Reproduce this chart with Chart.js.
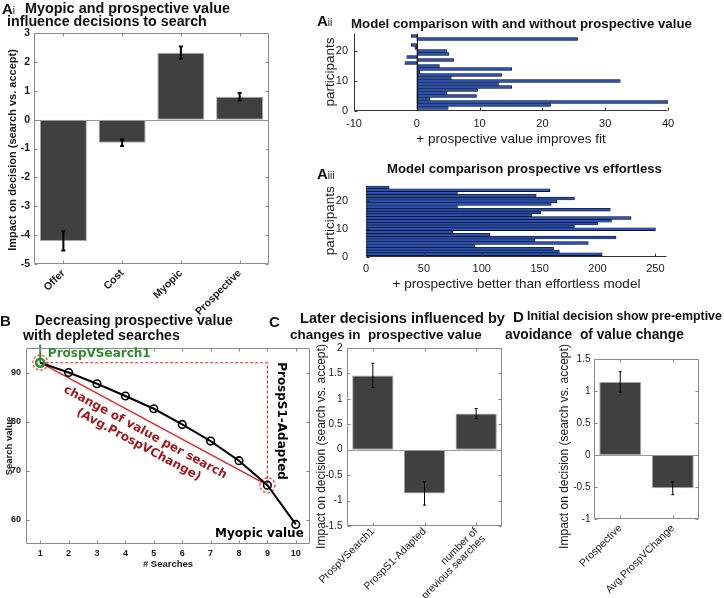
<!DOCTYPE html>
<html>
<head>
<meta charset="utf-8">
<title>Prospective value and search decisions</title>
<script src="https://cdn.jsdelivr.net/npm/chart.js@4.4.1/dist/chart.umd.min.js"></script>
<style>
  body { margin: 0; background: #fff; }
  #fig { position: relative; width: 724px; height: 598px; overflow: hidden; font-family: "Liberation Sans", Arial, Helvetica, sans-serif; color: #111; }
  #fig canvas { position: absolute; }
  .txt { position: absolute; white-space: nowrap; font-weight: bold; line-height: 1; }
  .tag { position: absolute; white-space: nowrap; font-weight: bold; font-size: 15px; line-height: 1; }
  .tag small { font-size: 10px; font-weight: normal; }
</style>
</head>
<body>
<div id="fig">
  <canvas id="chartAi"></canvas>
  <canvas id="chartAii"></canvas>
  <canvas id="chartAiii"></canvas>
  <canvas id="chartB"></canvas>
  <canvas id="chartC"></canvas>
  <canvas id="chartD"></canvas>

  <div class="tag" style="left:2px;top:1px">A<small>i</small></div>
  <div class="txt" data-w="205" style="left:25px;top:1px;font-size:14px">Myopic and prospective value</div>
  <div class="txt" data-w="200" style="left:7px;top:13.5px;font-size:14px">influence decisions to search</div>

  <div class="tag" style="left:317px;top:12.5px">A<small>ii</small></div>
  <div class="txt" data-w="341" style="left:351px;top:16.5px;font-size:13px">Model comparison with and without prospective value</div>

  <div class="tag" style="left:317px;top:165.5px">A<small>iii</small></div>
  <div class="txt" data-w="275" style="left:387px;top:162px;font-size:13px">Model comparison prospective vs effortless</div>

  <div class="tag" style="left:0px;top:313px">B</div>
  <div class="txt" data-w="198" style="left:35px;top:313px;font-size:14px">Decreasing prospective value</div>
  <div class="txt" data-w="157" style="left:23px;top:328px;font-size:14px">with depleted searches</div>

  <div class="tag" style="left:269px;top:313.5px">C</div>
  <div class="txt" data-w="205" style="left:300px;top:311px;font-size:14px">Later decisions influenced by</div>
  <div class="txt" data-w="192" style="left:290px;top:327.5px;font-size:14px">changes in&nbsp; prospective value</div>

  <div class="tag" style="left:513px;top:308.5px">D</div>
  <div class="txt" data-w="195" style="left:527px;top:310px;font-size:14px">Initial decision show pre-emptive</div>
  <div class="txt" data-w="179" style="left:505px;top:327.5px;font-size:14px">avoidance&nbsp; of value change</div>
</div>

<script>
// Ai: regression weights on the search/accept decision
const decisionFactors = ['Offer', 'Cost', 'Myopic', 'Prospective'];
const decisionImpact = [-4.2, -0.8, 2.32, 0.79];
const decisionImpactErr = [0.33, 0.11, 0.21, 0.13];
const decisionTicks = [-5, -4, -3, -2, -1, 0, 1, 2, 3];

// Aii / Aiii: per participant model comparison
const participants = [1, 2, 3, 4, 5, 6, 7, 8, 9, 10, 11, 12, 13, 14, 15, 16, 17, 18, 19, 20, 21, 22, 23, 24, 25];
const prospectiveFitGain = [5.0, 21.3, 40, 2.1, 9.5, 4.8, 9.7, 15.1, 13.0, 32.4, 5.5, 13.5, 0.5, 15.1, 3.6, -1.9, 5.9, -1.6, 5.1, 4.8, -0.3, -0.9, 0, 25.6, -0.9];
const effortlessGain = [204, 167, 162, 94, 192, 146, 216, 107, 75, 250, 180, 200, 212, 229, 143, 151, 211, 79, 160, 165, 180, 147, 79, 159, 20];
const participantTicks = [0, 10, 20];
const fitGainTicks = [-10, 0, 10, 20, 30, 40];
const effortlessTicks = [0, 50, 100, 150, 200, 250];

// B: search value over searches
const searchNumbers = [1, 2, 3, 4, 5, 6, 7, 8, 9, 10];
const searchValues = [92, 90, 87.7, 85.2, 82.6, 79.4, 76, 72, 67, 59];
const searchValueTicks = [60, 70, 80, 90];

// C: later decisions
const laterFactors = ['ProspVSearch1', 'ProspS1-Adapted', ['number of', 'previous searches']];
const laterImpact = [1.46, -0.86, 0.71];
const laterImpactErr = [0.24, 0.23, 0.1];
const laterTicks = [-1.5, -1, -0.5, 0, 0.5, 1, 1.5, 2];

// D: initial decision
const initialFactors = ['Prospective', 'Avg.ProspVChange'];
const initialImpact = [1.14, -0.52];
const initialImpactErr = [0.16, 0.1];
const initialTicks = [-1, -0.5, 0, 0.5, 1, 1.5];

const green = '#2f8c2f', red = '#e3262b', darkRed = '#a11b1f';
const FONT = '"Liberation Sans", Arial, Helvetica, sans-serif';

// canvas box and plot area of every panel, in page pixels
const layout = {
  ai:   { box: { x: 0, y: 15, w: 285, h: 305 },   plot: { l: 34, t: 33, r: 269, b: 264 } },
  aii:  { box: { x: 318, y: 15, w: 368, h: 135 }, plot: { l: 354, t: 33, r: 668, b: 111 } },
  aiii: { box: { x: 318, y: 160, w: 368, h: 137 }, plot: { l: 366, t: 178, r: 667, b: 257 } },
  b:    { box: { x: 0, y: 330, w: 325, h: 240 },  plot: { l: 26, t: 348, r: 310, b: 544 } },
  c:    { box: { x: 290, y: 330, w: 227, h: 268 }, plot: { l: 347, t: 348, r: 502, b: 526 } },
  d:    { box: { x: 540, y: 340, w: 184, h: 258 }, plot: { l: 594, t: 359, r: 699, b: 519 } }
};

Chart.defaults.font.family = FONT;
Chart.defaults.color = '#1a1a1a';
Chart.defaults.animation = false;
Chart.defaults.plugins.legend.display = false;
Chart.defaults.plugins.tooltip.enabled = false;

const noGrid = { display: false, drawTicks: false };

// matlab style axes: box, inward ticks, baseline at zero
const matlabAxes = {
  id: 'matlabAxes',
  afterDatasetsDraw(chart, args, opts) {
    if (!opts.color) return;
    const { ctx, chartArea: a } = chart;
    const x = chart.scales.x, y = chart.scales.y;
    const l = Math.round(a.left) + 0.5, r = Math.round(a.right) - 0.5;
    const t = Math.round(a.top) + 0.5, b = Math.round(a.bottom) - 0.5;
    const len = 3;
    ctx.save();
    ctx.lineWidth = 1;
    if (opts.zero) {
      ctx.strokeStyle = opts.zero;
      ctx.beginPath();
      if (chart.options.indexAxis === 'y') {
        const zx = Math.round(x.getPixelForValue(0)) + 0.5;
        ctx.moveTo(zx, t); ctx.lineTo(zx, b);
      } else {
        const zy = Math.round(y.getPixelForValue(0)) + 0.5;
        ctx.moveTo(l, zy); ctx.lineTo(r, zy);
      }
      ctx.stroke();
    }
    ctx.strokeStyle = opts.color;
    ctx.beginPath();
    ctx.moveTo(l, t); ctx.lineTo(l, b); ctx.lineTo(r, b);
    if (opts.box) { ctx.lineTo(r, t); ctx.closePath(); }
    x.ticks.forEach((tick, i) => {
      const p = Math.round(x.getPixelForTick(i)) + 0.5;
      ctx.moveTo(p, b); ctx.lineTo(p, b - len);
      if (opts.box) { ctx.moveTo(p, t); ctx.lineTo(p, t + len); }
    });
    y.ticks.forEach((tick, i) => {
      const p = Math.round(y.getPixelForTick(i)) + 0.5;
      ctx.moveTo(l, p); ctx.lineTo(l + len, p);
      if (opts.box) { ctx.moveTo(r, p); ctx.lineTo(r - len, p); }
    });
    ctx.stroke();
    if (opts.yTitle) {
      // drawn here so the long label is not squeezed to the plot height
      ctx.translate(opts.yTitleX, opts.yTitleY);
      ctx.rotate(-Math.PI / 2);
      ctx.font = opts.yTitleFont;
      ctx.fillStyle = '#1a1a1a';
      ctx.textAlign = 'center';
      ctx.textBaseline = 'middle';
      ctx.fillText(opts.yTitle, 0, 0);
    }
    ctx.restore();
  }
};

const errorBars = {
  id: 'errorBars',
  afterDatasetsDraw(chart, args, opts) {
    const ds = chart.data.datasets[0];
    if (!ds || !ds.errors) return;
    const { ctx } = chart;
    const y = chart.scales.y;
    const cap = opts.cap || 2;
    ctx.save();
    ctx.strokeStyle = '#000';
    ctx.lineWidth = opts.width || 1;
    chart.getDatasetMeta(0).data.forEach((bar, i) => {
      const hi = y.getPixelForValue(ds.data[i] + ds.errors[i]);
      const lo = y.getPixelForValue(ds.data[i] - ds.errors[i]);
      ctx.beginPath();
      ctx.moveTo(bar.x, hi); ctx.lineTo(bar.x, lo);
      ctx.moveTo(bar.x - cap, hi); ctx.lineTo(bar.x + cap, hi);
      ctx.moveTo(bar.x - cap, lo); ctx.lineTo(bar.x + cap, lo);
      ctx.stroke();
    });
    ctx.restore();
  }
};

Chart.register(matlabAxes, errorBars);

function frame(id, key) {
  const { box, plot } = layout[key];
  const canvas = document.getElementById(id);
  canvas.width = box.w; canvas.height = box.h;
  canvas.style.left = box.x + 'px'; canvas.style.top = box.y + 'px';
  canvas.style.width = box.w + 'px'; canvas.style.height = box.h + 'px';
  return {
    canvas, box,
    padding: { left: 0, top: plot.t - box.y, right: box.x + box.w - plot.r, bottom: 0 },
    yWidth: plot.l - box.x,
    xHeight: box.y + box.h - plot.b
  };
}

function linearAxis(min, max, values, font, pad) {
  return {
    type: 'linear', min, max, offset: false,
    grid: noGrid, border: { display: false },
    afterBuildTicks: s => { s.ticks = values.map(v => ({ value: v })); },
    ticks: { font, padding: pad, autoSkip: false, callback: v => String(v) }
  };
}

// Ai, C, D: vertical bars with error bars
function impactChart(id, key, labels, values, errors, ticks, yMin, yMax, style) {
  const f = frame(id, key);
  const y = linearAxis(yMin, yMax, ticks, style.yFont, style.yPad);
  y.afterFit = s => { s.width = f.yWidth; };
  return new Chart(f.canvas, {
    type: 'bar',
    data: {
      labels,
      datasets: [{
        data: values, errors,
        backgroundColor: '#404040', borderColor: '#a6a6a6', borderWidth: 1, borderSkipped: false,
        barPercentage: 0.8, categoryPercentage: 1
      }]
    },
    options: {
      responsive: false, devicePixelRatio: 1,
      layout: { padding: f.padding },
      plugins: {
        matlabAxes: {
          box: true, color: '#8a8a8a', zero: '#9a9a9a',
          yTitle: 'Impact on decision (search vs. accept)', yTitleFont: style.titleFont,
          yTitleX: style.titleX - f.box.x, yTitleY: style.titleY - f.box.y
        },
        errorBars: { width: style.errWidth, cap: style.cap }
      },
      scales: {
        x: {
          grid: noGrid, border: { display: false },
          ticks: { font: style.xFont, padding: style.xPad, minRotation: 45, maxRotation: 45, autoSkip: false },
          afterFit: s => { s.height = f.xHeight; }
        },
        y
      }
    }
  });
}

// Aii, Aiii: one horizontal bar per participant
function participantChart(id, key, gains, xMin, xMax, xTicks, xTitle, titleBottom, yPad, xPad, zero) {
  const f = frame(id, key);
  const tickFont = { size: 11 };
  const titleFont = { size: 13.5 };
  const x = linearAxis(xMin, xMax, xTicks, tickFont, xPad);
  x.afterFit = s => { s.height = f.xHeight; };
  x.title = { display: true, text: xTitle, font: titleFont, padding: { top: 0, bottom: titleBottom } };
  const y = linearAxis(0, 26, participantTicks, tickFont, yPad);
  y.afterFit = s => { s.width = f.yWidth; };
  y.title = { display: true, text: 'participants', font: titleFont, padding: { top: 330 - f.box.x - 8.1, bottom: 0 } };
  return new Chart(f.canvas, {
    type: 'bar',
    data: {
      datasets: [{
        data: participants.map((p, i) => ({ x: gains[i], y: p })),
        backgroundColor: '#2a50b0', borderColor: '#000000', borderWidth: 0.6, borderSkipped: false,
        barPercentage: 1, categoryPercentage: 1
      }]
    },
    options: {
      responsive: false, devicePixelRatio: 1, indexAxis: 'y',
      layout: { padding: f.padding },
      plugins: { matlabAxes: { box: false, color: '#333333', zero: zero } },
      scales: { x, y }
    }
  });
}

impactChart('chartAi', 'ai', decisionFactors, decisionImpact, decisionImpactErr, decisionTicks, -5, 3, {
  yFont: { size: 10.5, weight: 'bold' }, xFont: { size: 10.5, weight: 'bold' }, yPad: 4, xPad: 3,
  titleFont: 'bold 11px ' + FONT, titleX: 12.7, titleY: 150, errWidth: 2, cap: 2
});

participantChart('chartAii', 'aii', prospectiveFitGain, -10, 40, fitGainTicks,
  '+ prospective value improves fit', 2.9, 6, 6, '#111111');
participantChart('chartAiii', 'aiii', effortlessGain, 0, 260, effortlessTicks,
  '+ prospective better than effortless model', 4.9, 18, 5, null);

impactChart('chartC', 'c', laterFactors, laterImpact, laterImpactErr, laterTicks, -1.5, 2, {
  yFont: { size: 10 }, xFont: { size: 10.5, lineHeight: 1.0 }, yPad: 4.5, xPad: 0,
  titleFont: '12px ' + FONT, titleX: 322, titleY: 446.5, errWidth: 1, cap: 1.5
});

impactChart('chartD', 'd', initialFactors, initialImpact, initialImpactErr, initialTicks, -1, 1.5, {
  yFont: { size: 10 }, xFont: { size: 10.5 }, yPad: 3.5, xPad: 3,
  titleFont: '12px ' + FONT, titleX: 565, titleY: 446.5, errWidth: 1, cap: 1.5
});

// B: search value curve with the annotations
function dashedRing(radius, color) {
  const size = Math.ceil(radius * 2 + 4);
  const c = document.createElement('canvas');
  c.width = c.height = size;
  const g = c.getContext('2d');
  g.strokeStyle = color;
  g.lineWidth = 1.3;
  g.setLineDash([2.6, 2]);
  g.beginPath();
  g.arc(size / 2, size / 2, radius, 0, Math.PI * 2);
  g.stroke();
  return c;
}

const firstSearch = { x: searchNumbers[0], y: searchValues[0] };
const adaptedSearch = { x: searchNumbers[8], y: searchValues[8] };

const searchNotes = {
  id: 'searchNotes',
  afterDatasetsDraw(chart) {
    const { ctx } = chart;
    const x = chart.scales.x, y = chart.scales.y;
    const slope = Math.atan2(
      y.getPixelForValue(adaptedSearch.y) - y.getPixelForValue(firstSearch.y),
      x.getPixelForValue(adaptedSearch.x) - x.getPixelForValue(firstSearch.x));
    const bold = 'bold 12px "DejaVu Sans", sans-serif';
    const notes = [
      { text: ['ProspVSearch1'], at: [1.27, 93.7], align: 'left', angle: 0, color: green },
      { text: ['change of value per search', '(Avg.ProspVChange)'], at: [4.58, 76.5], align: 'center', angle: slope, color: darkRed },
      { text: ['ProspS1-Adapted'], at: [9.48, 80.1], align: 'center', angle: Math.PI / 2, color: '#000' },
      { text: ['Myopic value'], at: [8.72, 57], align: 'center', angle: 0, color: '#000' }
    ];
    notes.forEach(n => {
      ctx.save();
      ctx.translate(x.getPixelForValue(n.at[0]), y.getPixelForValue(n.at[1]));
      ctx.rotate(n.angle);
      ctx.font = bold;
      ctx.fillStyle = n.color;
      ctx.textAlign = n.align;
      ctx.textBaseline = 'middle';
      n.text.forEach((s, k) => ctx.fillText(s, 0, (k - (n.text.length - 1) / 2) * 14));
      ctx.restore();
    });
  }
};

(function () {
  const f = frame('chartB', 'b');
  const tickFont = { size: 9, weight: 'bold' };
  const titleFont = { size: 9.5, weight: 'bold' };
  const x = linearAxis(0.5, 10.5, searchNumbers, tickFont, 4);
  x.afterFit = s => { s.height = f.xHeight; };
  x.title = { display: true, text: '# Searches', font: titleFont, padding: { top: 0, bottom: 0 } };
  const y = linearAxis(55, 95, searchValueTicks, tickFont, 5);
  y.afterFit = s => { s.width = f.yWidth; };
  y.title = { display: true, text: 'Search value', font: titleFont, padding: { top: 3.3, bottom: 0 } };

  new Chart(f.canvas, {
    type: 'line',
    data: {
      datasets: [
        { data: [firstSearch], showLine: false, pointRadius: 4, pointBorderWidth: 2.6,
          pointBorderColor: green, pointBackgroundColor: 'rgba(0,0,0,0)' },
        { data: searchNumbers.map((n, i) => ({ x: n, y: searchValues[i] })),
          borderColor: '#000', borderWidth: 2,
          pointRadius: c => (c.dataIndex === 0 ? 0 : 3.8), pointBorderWidth: 1.6,
          pointBorderColor: '#000', pointBackgroundColor: 'rgba(0,0,0,0)' },
        { data: [firstSearch, { x: firstSearch.x, y: 95.7 }], borderColor: green, borderWidth: 2,
          pointRadius: 0, clip: false },
        { data: [firstSearch, adaptedSearch], showLine: false,
          pointStyle: dashedRing(7.5, red), pointRadius: 8 },
        { data: [firstSearch, adaptedSearch], borderColor: red, borderWidth: 1.5, pointRadius: 0 },
        { data: [firstSearch, { x: adaptedSearch.x, y: firstSearch.y }, adaptedSearch],
          borderColor: red, borderWidth: 1.1, borderDash: [3, 2], pointRadius: 0 }
      ]
    },
    options: {
      responsive: false, devicePixelRatio: 1,
      layout: { padding: f.padding },
      plugins: { matlabAxes: { box: true, color: '#8a8a8a' } },
      scales: { x, y }
    },
    plugins: [searchNotes]
  });
})();

// squeeze or stretch each title line to the measured width
document.querySelectorAll('.txt[data-w]').forEach(el => {
  const size = parseFloat(el.style.fontSize);
  const w = el.getBoundingClientRect().width;
  el.style.fontSize = (size * el.dataset.w / w).toFixed(2) + 'px';
});
</script>
</body>
</html>
